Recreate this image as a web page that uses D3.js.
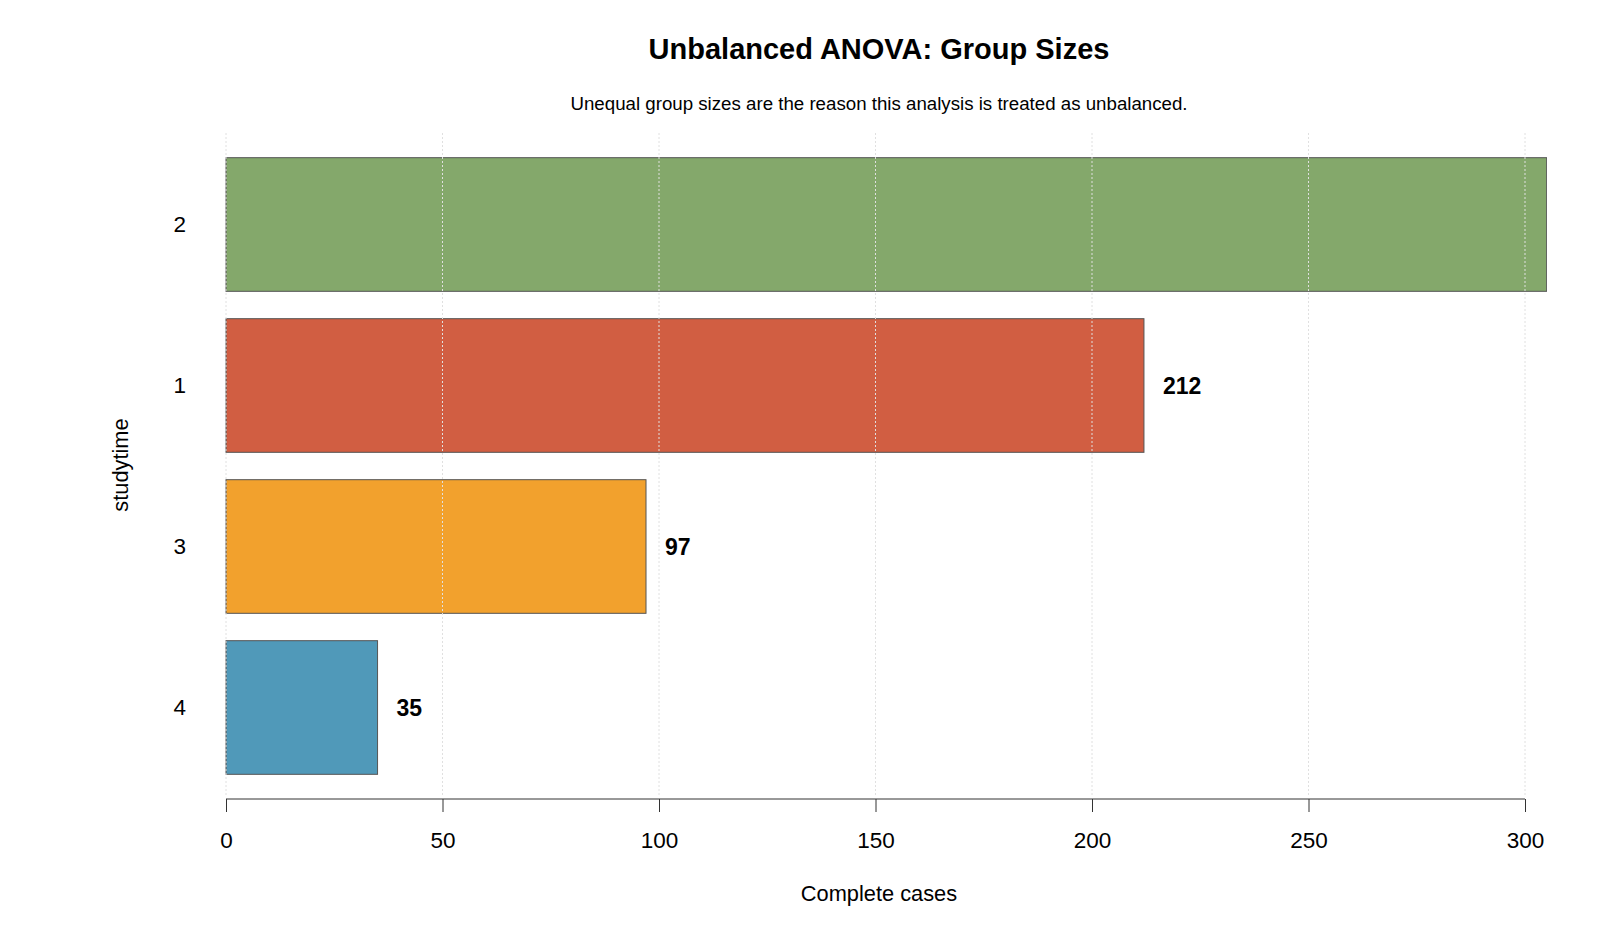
<!DOCTYPE html>
<meta charset="utf-8">
<title>Unbalanced ANOVA: Group Sizes</title>
<script src="https://d3js.org/d3.v7.min.js"></script>
<style>
  body { margin: 0; background: #fff; }
  text { font-family: "Liberation Sans", Arial, Helvetica, sans-serif; fill: #000; }
  text.title { font-size: 29px; font-weight: bold; text-anchor: middle; }
  text.subtitle { font-size: 18.7px; text-anchor: middle; }
  text.tick { font-size: 22.5px; }
  text.axtitle { font-size: 21.8px; text-anchor: middle; }
  text.val { font-size: 23px; font-weight: bold; }
</style>
<div id="chart"></div>
<script>
// group sizes, sorted largest first
var groups = ["2", "1", "3", "4"];
var counts = [305, 212, 97, 35];
var colors = ["#84a86b", "#d15e42", "#f2a12d", "#5099b9"];
var xTicks = [0, 50, 100, 150, 200, 250, 300];

var W = 1600, H = 933;
var svg = d3.select("#chart").append("svg")
    .attr("width", W)
    .attr("height", H);

var x = d3.scaleLinear().domain([0, 300]).range([226, 1525]);
var y = d3.scaleBand().domain(groups).range([144, 788])
    .paddingInner(0.17).paddingOuter(0.085);

var plotTop = 133, plotBottom = 795, plotRight = 1547;

svg.append("clipPath").attr("id", "plotclip")
  .append("rect")
    .attr("x", 0).attr("y", plotTop)
    .attr("width", plotRight).attr("height", plotBottom - plotTop);

var plot = svg.append("g").attr("clip-path", "url(#plotclip)");

// bars
plot.selectAll("rect.bar")
  .data(groups)
  .enter().append("rect")
    .attr("class", "bar")
    .attr("x", x(0))
    .attr("y", function(d) { return y(d); })
    .attr("width", function(d, i) { return x(counts[i]) - x(0); })
    .attr("height", y.bandwidth())
    .attr("fill", function(d, i) { return colors[i]; })
    .attr("stroke", "#555")
    .attr("stroke-width", 1);

// dotted grid on top of the bars
plot.selectAll("line.grid")
  .data(xTicks)
  .enter().append("line")
    .attr("class", "grid")
    .attr("x1", function(d) { return x(d); })
    .attr("x2", function(d) { return x(d); })
    .attr("y1", plotTop)
    .attr("y2", plotBottom)
    .attr("stroke", "#e0e0e0")
    .attr("stroke-width", 1)
    .attr("stroke-dasharray", "2,2");

// value labels, only where they fit inside the plot region
var labelled = groups.map(function(g, i) { return {g: g, n: counts[i]}; })
    .filter(function(d) { return x(d.n) + 19 < plotRight; });

plot.selectAll("text.val")
  .data(labelled)
  .enter().append("text")
    .attr("class", "val")
    .attr("x", function(d) { return x(d.n) + 19; })
    .attr("y", function(d) { return y(d.g) + y.bandwidth() / 2; })
    .attr("dy", "0.35em")
    .text(function(d) { return d.n; });

// x axis
var xAxis = svg.append("g")
    .attr("transform", "translate(0,799)")
    .call(d3.axisBottom(x).tickValues(xTicks).tickSize(13).tickPadding(20));
xAxis.select(".domain").attr("stroke", "#333").attr("d", "M" + x(0) + ",0H" + x(300));
xAxis.selectAll(".tick line").attr("stroke", "#333");
xAxis.selectAll(".tick text")
    .attr("class", "tick")
    .style("font-family", "'Liberation Sans', Arial, sans-serif")
    .style("font-size", "22.5px")
    .attr("fill", "#000");

// y labels
svg.selectAll("text.ylab")
  .data(groups)
  .enter().append("text")
    .attr("class", "tick")
    .attr("x", 186)
    .attr("y", function(d) { return y(d) + y.bandwidth() / 2; })
    .attr("dy", "0.35em")
    .attr("text-anchor", "end")
    .text(function(d) { return d; });

svg.append("text")
    .attr("class", "title")
    .attr("x", 879).attr("y", 59)
    .text("Unbalanced ANOVA: Group Sizes");

svg.append("text")
    .attr("class", "subtitle")
    .attr("x", 879).attr("y", 110)
    .text("Unequal group sizes are the reason this analysis is treated as unbalanced.");

svg.append("text")
    .attr("class", "axtitle")
    .attr("x", 879).attr("y", 901)
    .text("Complete cases");

svg.append("text")
    .attr("class", "axtitle")
    .attr("transform", "translate(128,465) rotate(-90)")
    .text("studytime");
</script>
